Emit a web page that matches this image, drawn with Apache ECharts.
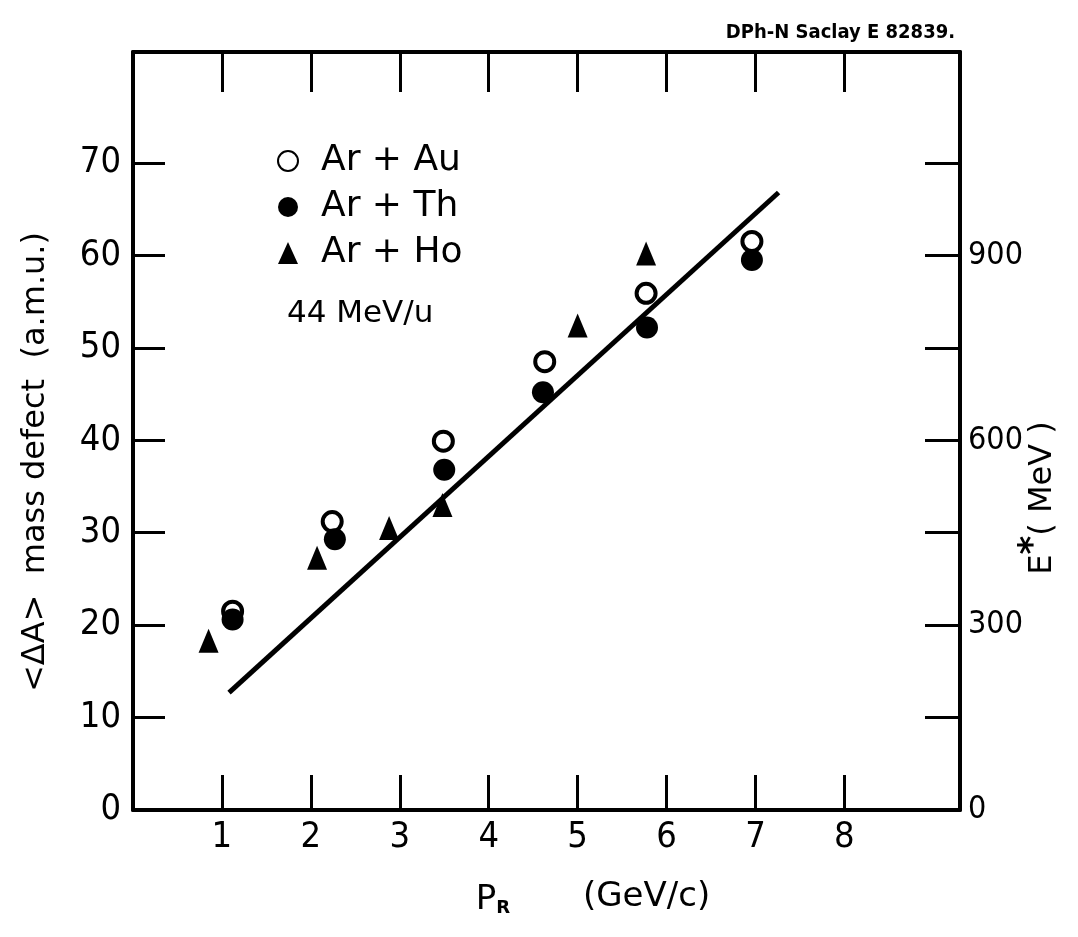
<!DOCTYPE html>
<html>
<head>
<meta charset="utf-8">
<script src="https://cdn.jsdelivr.net/npm/echarts@6/dist/echarts.min.js"></script>
<style>
  html, body { margin: 0; padding: 0; background: #fff; }
  #main { width: 1078px; height: 937px; }
</style>
</head>
<body>
<div id="main"></div>
<script>
// values: [P_R (GeV/c), <dA> (a.m.u.)]
var arAu = [[1.12, 21.5], [2.24, 31.2], [3.49, 39.9], [4.63, 48.5], [5.77, 55.9], [6.96, 61.5]];
var arTh = [[1.12, 20.6], [2.27, 29.3], [3.50, 36.8], [4.61, 45.2], [5.78, 52.2], [6.96, 59.5]];
var arHo = [[0.85, 18.3], [2.07, 27.3], [2.88, 30.5], [3.48, 33.0], [5.00, 52.4], [5.77, 60.2]];
var fitLine = [[1.08, 12.7], [7.26, 66.8]];

var xTicks = [1, 2, 3, 4, 5, 6, 7, 8];
var yTicks = [10, 20, 30, 40, 50, 60, 70];
var yLabels = [0, 10, 20, 30, 40, 50, 60, 70];
var eTicks = [150, 300, 450, 600, 750, 900, 1050];
var eLabels = [0, 300, 600, 900];

var FONT = 'DejaVu Sans';
var NARROW = '"Liberation Sans Narrow", "DejaVu Sans Condensed", "DejaVu Sans"';
var axisLine = { show: true, onZero: false, lineStyle: { color: '#000', width: 4 } };

var chart = echarts.init(document.getElementById('main'));

var option = {
    backgroundColor: '#fff',
    animation: false,
    title: {
        text: 'DPh-N Saclay E 82839.',
        right: 118,
        top: 18,
        textStyle: { fontFamily: NARROW, fontSize: 20, fontWeight: 'bold', color: '#000' }
    },
    grid: { left: 133, right: 118, top: 52, bottom: 127 },
    legend: {
        data: ['Ar+Au', 'Ar+Th', 'Ar+Ho'],
        orient: 'vertical',
        left: 272,
        top: 138,
        itemWidth: 20,
        itemHeight: 22,
        itemGap: 10,
        textStyle: { fontFamily: FONT, fontSize: 36, color: '#000', padding: [0, 0, 0, 18] },
        formatter: function (n) { return n.replace('+', ' + '); }
    },
    xAxis: [{
        type: 'value', min: 0, max: 9.3, position: 'bottom',
        axisLine: axisLine,
        splitLine: { show: false },
        axisTick: { show: true, inside: true, length: 35, customValues: xTicks, lineStyle: { color: '#000', width: 3 } },
        axisLabel: { customValues: xTicks, fontFamily: NARROW, fontSize: 36, color: '#000', margin: 10 }
    }, {
        type: 'value', min: 0, max: 9.3, position: 'top',
        axisLine: axisLine,
        splitLine: { show: false },
        axisTick: { show: true, inside: true, length: 40, customValues: xTicks, lineStyle: { color: '#000', width: 3 } },
        axisLabel: { show: false }
    }],
    yAxis: [{
        type: 'value', min: 0, max: 82, position: 'left',
        axisLine: axisLine,
        splitLine: { show: false },
        axisTick: { show: true, inside: true, length: 32, customValues: yTicks, lineStyle: { color: '#000', width: 3 } },
        axisLabel: { customValues: yLabels, fontFamily: NARROW, fontSize: 36, color: '#000', margin: 12 }
    }, {
        type: 'value', min: 0, max: 1230, position: 'right',
        axisLine: axisLine,
        splitLine: { show: false },
        axisTick: { show: true, inside: true, length: 35, customValues: eTicks, lineStyle: { color: '#000', width: 3 } },
        axisLabel: { customValues: eLabels, fontFamily: NARROW, fontSize: 32, color: '#000', margin: 8 }
    }],
    graphic: [
        {
            type: 'text', left: 287, top: 298,
            style: { text: '44 MeV/u', fontFamily: FONT, fontSize: 31, fill: '#000' }
        },
        {
            type: 'text', x: 36, y: 462, rotation: Math.PI / 2,
            style: { text: '<ΔA>  mass defect  (a.m.u.)', fontFamily: FONT, fontSize: 32, fill: '#000', align: 'center', verticalAlign: 'middle' }
        },
        {
            type: 'text', x: 1043, y: 498, rotation: Math.PI / 2,
            style: {
                text: '{e|E}{s|*}{m|( MeV )}',
                align: 'center', verticalAlign: 'middle',
                rich: {
                    e: { fontFamily: FONT, fontSize: 32, fill: '#000' },
                    s: { fontFamily: FONT, fontSize: 36, fontWeight: 'bold', fill: '#000', padding: [0, 0, 18, 0] },
                    m: { fontFamily: FONT, fontSize: 32, fill: '#000' }
                }
            }
        },
        {
            type: 'text', x: 493, y: 900,
            style: {
                text: '{p|P}{r|R}',
                align: 'center', verticalAlign: 'middle',
                rich: {
                    p: { fontFamily: FONT, fontSize: 34, fill: '#000' },
                    r: { fontFamily: FONT, fontSize: 18, fontWeight: 'bold', fill: '#000', padding: [16, 0, 0, 0] }
                }
            }
        },
        {
            type: 'text', left: 583, top: 880,
            style: { text: '(GeV/c)', fontFamily: FONT, fontSize: 34, fill: '#000' }
        }
    ],
    series: [
        {
            name: 'fit', type: 'line', data: fitLine, symbol: 'none', silent: true,
            lineStyle: { color: '#000', width: 5 }, z: 1
        },
        {
            name: 'Ar+Ho', type: 'scatter', data: arHo, symbol: 'triangle', symbolSize: [20, 24],
            itemStyle: { color: '#000', opacity: 1 }, z: 2
        },
        {
            name: 'Ar+Au', type: 'scatter', data: arAu, symbol: 'circle', symbolSize: 19,
            itemStyle: { color: '#fff', borderColor: '#000', borderWidth: 4, opacity: 1 }, z: 3
        },
        {
            name: 'Ar+Th', type: 'scatter', data: arTh, symbol: 'circle', symbolSize: 22,
            itemStyle: { color: '#000', opacity: 1 }, z: 4
        }
    ]
};

chart.setOption(option);
</script>
</body>
</html>
